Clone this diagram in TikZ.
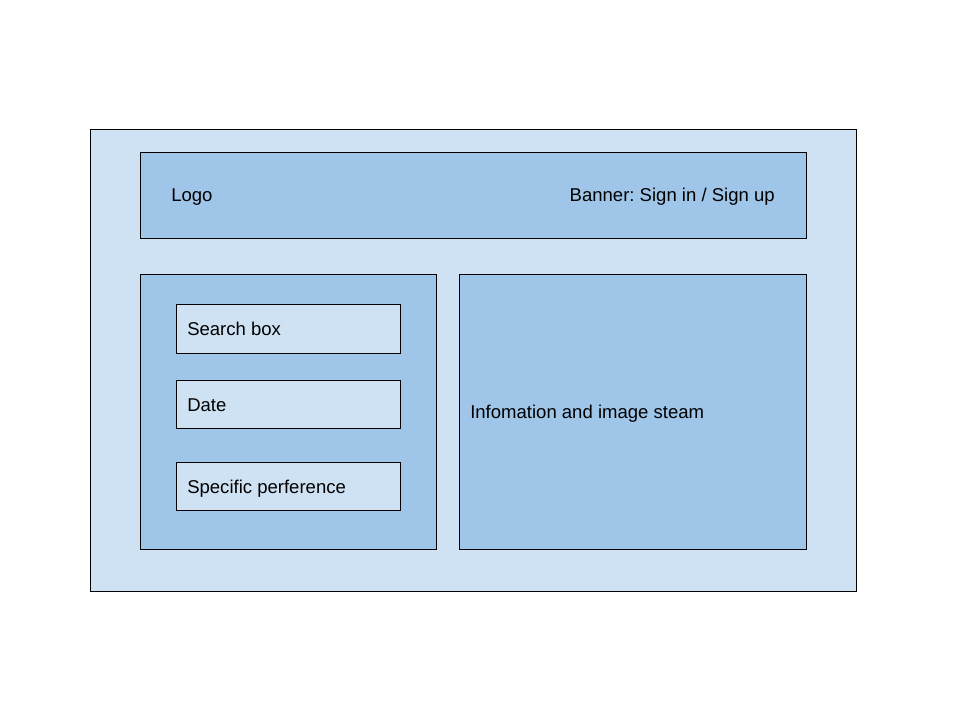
\documentclass[tikz,border=0pt]{standalone}
\usepackage{fontspec}
\setmainfont{Liberation Sans}
\usetikzlibrary{positioning}
\definecolor{paleblue}{HTML}{CFE2F3}
\definecolor{midblue}{HTML}{9FC5E8}
\tikzset{panel/.style={draw=black, line width=0.6pt}}
\tikzset{boxtext/.style={font=\fontsize{13.9}{16}\selectfont, inner sep=0pt}}
\frenchspacing

\begin{document}
\begin{tikzpicture}[x=0.75pt,y=-0.75pt]
        \useasboundingbox (0,0) rectangle (960,720);
        \draw[panel, fill=paleblue] (90.5,129.5) rectangle (856,591);
        \draw[panel, fill=midblue] (140.5,152.5) rectangle (806,238);
        \draw[panel, fill=midblue] (140.5,274.5) rectangle (436,549);
        \draw[panel, fill=midblue] (459.5,274.5) rectangle (806,549);
        \draw[panel, fill=paleblue] (176.5,304.5) rectangle (400,353);
        \draw[panel, fill=paleblue] (176.5,380.5) rectangle (400,428);
        \draw[panel, fill=paleblue] (176.5,462.5) rectangle (400,510);
        \node[boxtext, anchor=base west] (logo) at (171,201.6) {Logo};
        \node[boxtext, anchor=base east] (banner) at (775,201.6) {Banner: Sign in / Sign up};
        \node[boxtext, anchor=base west] (search) at (187,335.6) {Search box};
        \node[boxtext, anchor=base west] (date) at (187,411.6) {Date};
        \node[boxtext, anchor=base west] (pref) at (187,493.6) {Specific perference};
        \node[boxtext, anchor=base west] (stream) at (470,418.6) {Infomation and image steam};
      \end{tikzpicture}
\end{document}
